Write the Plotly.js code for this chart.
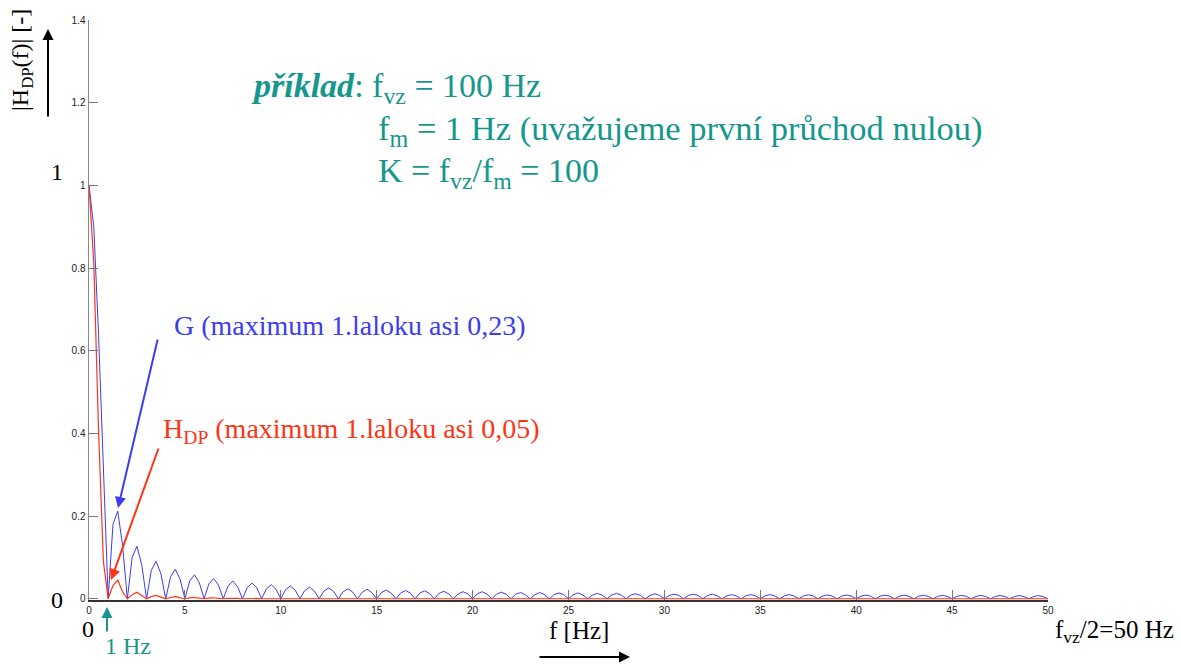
<!DOCTYPE html>
<html>
<head>
<meta charset="utf-8">
<script src="https://cdn.plot.ly/plotly-3.0.1.min.js"></script>
<style>
  html, body { margin: 0; padding: 0; background: #fff; }
  #chart { width: 1181px; height: 664px; }
</style>
</head>
<body>
<div id="chart"></div>
<script>
// Magnitude responses: G (blue, |sinc|-like) and H_DP (red).
const freq = [
  0, 0.25, 0.5, 0.75, 1, 1.25, 1.5, 1.75, 2, 2.25, 2.5, 2.75, 3, 3.25, 3.5, 3.75, 4, 4.25, 4.5, 4.75,
  5, 5.25, 5.5, 5.75, 6, 6.25, 6.5, 6.75, 7, 7.25, 7.5, 7.75, 8, 8.25, 8.5, 8.75, 9, 9.25, 9.5, 9.75,
  10, 10.25, 10.5, 10.75, 11, 11.25, 11.5, 11.75, 12, 12.25, 12.5, 12.75, 13, 13.25, 13.5, 13.75, 14, 14.25, 14.5, 14.75,
  15, 15.25, 15.5, 15.75, 16, 16.25, 16.5, 16.75, 17, 17.25, 17.5, 17.75, 18, 18.25, 18.5, 18.75, 19, 19.25, 19.5, 19.75,
  20, 20.25, 20.5, 20.75, 21, 21.25, 21.5, 21.75, 22, 22.25, 22.5, 22.75, 23, 23.25, 23.5, 23.75, 24, 24.25, 24.5, 24.75,
  25, 25.25, 25.5, 25.75, 26, 26.25, 26.5, 26.75, 27, 27.25, 27.5, 27.75, 28, 28.25, 28.5, 28.75, 29, 29.25, 29.5, 29.75,
  30, 30.25, 30.5, 30.75, 31, 31.25, 31.5, 31.75, 32, 32.25, 32.5, 32.75, 33, 33.25, 33.5, 33.75, 34, 34.25, 34.5, 34.75,
  35, 35.25, 35.5, 35.75, 36, 36.25, 36.5, 36.75, 37, 37.25, 37.5, 37.75, 38, 38.25, 38.5, 38.75, 39, 39.25, 39.5, 39.75,
  40, 40.25, 40.5, 40.75, 41, 41.25, 41.5, 41.75, 42, 42.25, 42.5, 42.75, 43, 43.25, 43.5, 43.75, 44, 44.25, 44.5, 44.75,
  45, 45.25, 45.5, 45.75, 46, 46.25, 46.5, 46.75, 47, 47.25, 47.5, 47.75, 48, 48.25, 48.5, 48.75, 49, 49.25, 49.5, 49.75,
  50
];
const gMag = [
  1, 0.900, 0.637, 0.300, 0, 0.180, 0.212, 0.129, 0, 0.100, 0.127, 0.082, 0, 0.069, 0.091, 0.060, 0, 0.053, 0.071, 0.047,
  0, 0.043, 0.058, 0.039, 0, 0.036, 0.049, 0.033, 0, 0.031, 0.043, 0.029, 0, 0.027, 0.038, 0.026, 0, 0.024, 0.034, 0.023,
  0, 0.022, 0.031, 0.021, 0, 0.020, 0.028, 0.019, 0, 0.019, 0.026, 0.018, 0, 0.017, 0.024, 0.016, 0, 0.016, 0.023, 0.015,
  0, 0.015, 0.021, 0.014, 0, 0.014, 0.020, 0.014, 0, 0.014, 0.019, 0.013, 0, 0.013, 0.018, 0.012, 0, 0.012, 0.017, 0.012,
  0, 0.012, 0.017, 0.011, 0, 0.011, 0.016, 0.011, 0, 0.011, 0.015, 0.010, 0, 0.010, 0.015, 0.010, 0, 0.010, 0.014, 0.010,
  0, 0.010, 0.014, 0.009, 0, 0.009, 0.013, 0.009, 0, 0.009, 0.013, 0.009, 0, 0.009, 0.012, 0.008, 0, 0.008, 0.012, 0.008,
  0, 0.008, 0.011, 0.008, 0, 0.008, 0.011, 0.008, 0, 0.008, 0.011, 0.007, 0, 0.007, 0.010, 0.007, 0, 0.007, 0.010, 0.007,
  0, 0.007, 0.010, 0.007, 0, 0.007, 0.010, 0.007, 0, 0.007, 0.0095, 0.007, 0, 0.0065, 0.0093, 0.0065, 0, 0.0065, 0.009, 0.0063,
  0, 0.0063, 0.009, 0.0062, 0, 0.0062, 0.0088, 0.006, 0, 0.006, 0.0086, 0.006, 0, 0.006, 0.0085, 0.0058, 0, 0.0058, 0.0083, 0.0057,
  0, 0.0057, 0.0082, 0.0056, 0, 0.0056, 0.008, 0.0055, 0, 0.0055, 0.0079, 0.0054, 0, 0.0054, 0.0078, 0.0053, 0, 0.0053, 0.0077, 0.0052,
  0
];
const freqRed = [
  0, 0.25, 0.5, 0.75, 1, 1.25, 1.5, 1.75, 2, 2.25, 2.5, 2.75, 3, 3.25, 3.5, 3.75, 4, 4.25, 4.5, 4.75,
  5, 5.25, 5.5, 5.75, 6, 6.25, 6.5, 6.75, 7, 7.25, 7.5, 7.75, 8, 8.25, 8.5, 8.75, 9, 50
];
const hdpMag = [
  1, 0.811, 0.405, 0.090, 0, 0.032, 0.045, 0.017, 0, 0.010, 0.016, 0.007, 0, 0.005, 0.008, 0.004, 0, 0.003, 0.005, 0.002,
  0, 0.002, 0.003, 0.0015, 0, 0.0013, 0.0024, 0.0011, 0, 0.001, 0.0018, 0.0008, 0, 0.0007, 0.0014, 0.0007, 0, 0
];
const xTicks = [0, 5, 10, 15, 20, 25, 30, 35, 40, 45, 50];
const yTicks = [0, 0.2, 0.4, 0.6, 0.8, 1, 1.2, 1.4];

const BLUE = '#3c3cf2', RED = '#ff3414', TEAL = '#15978d';
const SERIF = 'Liberation Serif, Times New Roman, serif';

// plot box in page pixels, used to place the slide's free text
const L = 89, R = 1048, T = 20, B = 600;
const px = (x) => (x - L) / (R - L);
const py = (y) => (B - y) / (B - T);

function label(text, x, y, size, color, extra) {
  return Object.assign({ xref: 'paper', yref: 'paper', x: px(x), y: py(y), text: text,
    showarrow: false, xanchor: 'center', yanchor: 'middle',
    font: { family: SERIF, size: size, color: color } }, extra || {});
}
function arrow(x0, y0, x1, y1, color, w) {
  return { xref: 'paper', yref: 'paper', x: px(x1), y: py(y1), ax: x0 - x1, ay: y0 - y1,
    text: '', showarrow: true, arrowhead: 2, arrowsize: 1.1, arrowwidth: w, arrowcolor: color };
}

const traces = [
  { x: freq, y: gMag, type: 'scatter', mode: 'lines', name: 'G',
    line: { color: BLUE, width: 1 } },
  { x: freqRed, y: hdpMag, type: 'scatter', mode: 'lines', name: 'HDP',
    line: { color: RED, width: 1.2 } },
];

const annotations = [
  label('|H<sub>DP</sub>(f)| [-]', 22, 60, 24, '#000', { textangle: -90 }),
  arrow(48, 118, 48, 29, '#000', 2),
  label('1', 57, 172, 24, '#000'),
  label('0', 57, 600, 24, '#000'),
  label('0', 88, 629, 24, '#000'),
  label('1 Hz', 128, 646, 24, TEAL),
  arrow(107, 633, 107, 607, TEAL, 2),
  label('f [Hz]', 579, 630, 25, '#000'),
  arrow(538, 657, 630, 657, '#000', 2),
  label('f<sub>vz</sub>/2=50 Hz', 1053, 631, 25, '#000', { xanchor: 'left' }),
  label('<b><i>příklad</i></b>: f<sub>vz</sub> = 100 Hz', 249, 88, 34, TEAL, { xanchor: 'left' }),
  label('f<sub>m</sub> = 1 Hz (uvažujeme první průchod nulou)', 376, 130, 34.5, TEAL, { xanchor: 'left' }),
  label('K = f<sub>vz</sub>/f<sub>m</sub> = 100', 376, 173, 34, TEAL, { xanchor: 'left' }),
  label('G (maximum 1.laloku asi 0,23)', 172, 325, 28, BLUE, { xanchor: 'left' }),
  arrow(158, 338, 118, 508, BLUE, 2),
  label('H<sub>DP</sub> (maximum 1.laloku asi 0,05)', 161, 430, 28, RED, { xanchor: 'left' }),
  arrow(159, 447, 111, 580, RED, 2),
];

const layout = {
  width: 1181, height: 664,
  margin: { l: L, r: 1181 - R, t: T, b: 664 - B },
  paper_bgcolor: '#fff', plot_bgcolor: '#fff',
  showlegend: false,
  font: { family: 'Liberation Sans, Arial, sans-serif', size: 10, color: '#222' },
  xaxis: { range: [0, 50], tickvals: xTicks, ticks: 'inside', ticklen: 10, tickcolor: '#777',
    showline: true, linecolor: '#333', linewidth: 1.5, showgrid: false, zeroline: false,
    tickfont: { size: 10, color: '#222' } },
  yaxis: { range: [-0.003, 1.4], tickvals: yTicks, ticks: 'inside', ticklen: 9, tickcolor: '#777',
    showline: true, linecolor: '#888', linewidth: 1.5, showgrid: false, zeroline: false,
    tickfont: { size: 10, color: '#222' } },
  annotations: annotations,
};

Plotly.newPlot('chart', traces, layout, { displayModeBar: false, staticPlot: true });
</script>
</body>
</html>
